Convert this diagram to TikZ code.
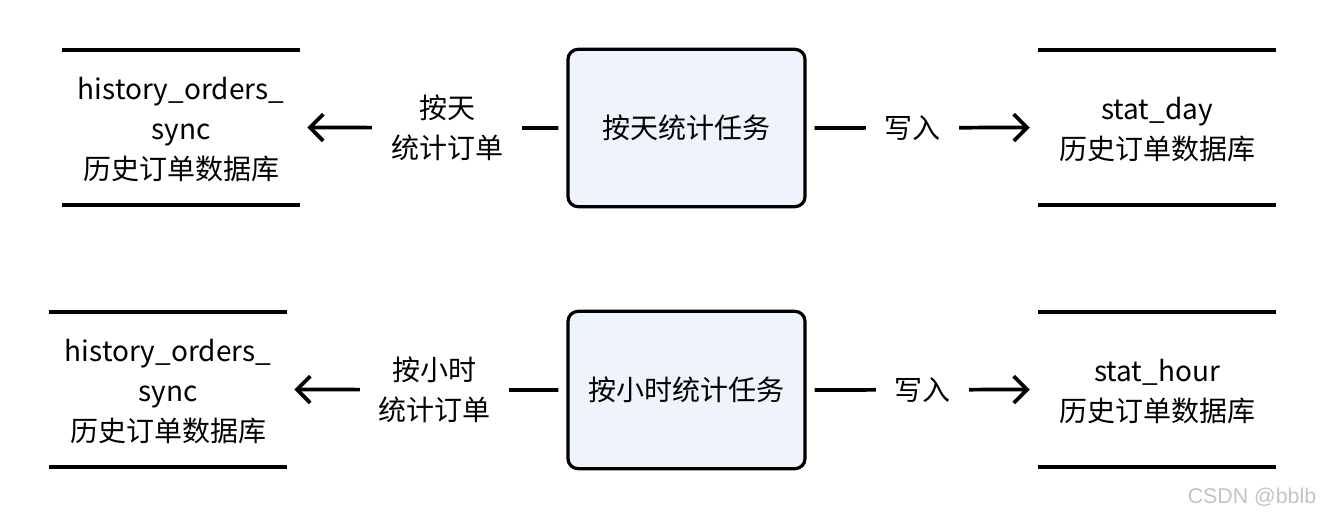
\documentclass[tikz,border=0pt]{standalone}
\usepackage{fontspec}
\setmainfont{Noto Sans CJK SC}
\newfontfamily\wmfont{Liberation Sans}
\usetikzlibrary{arrows.meta}
\definecolor{taskfill}{HTML}{EEF3FC}
\definecolor{wmgray}{HTML}{C4C4C4}
\tikzset{
  dbnode/.style={minimum width=178.5pt, minimum height=116.25pt, inner sep=0pt, align=center, font=\fontsize{21}{30}\selectfont},
  dbline/.style={line width=3pt},
  taskbox/.style={draw, line width=2.4pt, rounded corners=7.5pt, fill=taskfill, minimum width=177.75pt, minimum height=118pt, inner sep=0pt, font=\fontsize{21}{30}\selectfont},
  arr/.style={line width=2.8pt, -{Straight Barb[length=10pt, width=20pt, line width=2.8pt]}},
  lbl/.style={fill=white, inner xsep=14pt, inner ysep=2pt, align=center, font=\fontsize{21}{30}\selectfont}
}
\begin{document}
\begin{tikzpicture}[x=0.75pt, y=-0.75pt]
\path[use as bounding box, fill=white] (0,0) rectangle (1326,520);

\node[dbnode] (d1) at (181,127.5) {};
\node[dbnode] (d2) at (1157,127.5) {};
\node[dbnode] (d3) at (168,389.5) {};
\node[dbnode] (d4) at (1157,389.5) {};
\node[dbnode, minimum width=0pt, minimum height=0pt] (d1t) at (181,130) {history\_orders\_\\sync\\历史订单数据库};
\node[dbnode, minimum width=0pt, minimum height=0pt] (d2t) at (1157,130) {stat\_day\\历史订单数据库};
\node[dbnode, minimum width=0pt, minimum height=0pt] (d3t) at (168,392) {history\_orders\_\\sync\\历史订单数据库};
\node[dbnode, minimum width=0pt, minimum height=0pt] (d4t) at (1157,392) {stat\_hour\\历史订单数据库};

\node[taskbox] (t1) at (686.5,128) {按天统计任务};
\node[taskbox] (t2) at (686.5,390) {按小时统计任务};

\foreach \n in {d1,d2,d3,d4}{
  \draw[dbline] (\n.north west) -- (\n.north east);
  \draw[dbline] (\n.south west) -- (\n.south east);
}

\draw[arr] ([xshift=-6pt]t1.west) -- node[lbl, pos=0.443] (l1) {按天\\统计订单} ([xshift=5.25pt]d1.east);
\draw[arr] ([xshift=6pt]t1.east) -- node[lbl, pos=0.456] (l2) {写入} ([xshift=-6pt]d2.west);
\draw[arr] ([xshift=-6pt]t2.west) -- node[lbl, pos=0.47] (l3) {按小时\\统计订单} ([xshift=5.25pt]d3.east);
\draw[arr] ([xshift=6pt]t2.east) -- node[lbl, pos=0.50] (l4) {写入} ([xshift=-6pt]d4.west);

\node[text=wmgray, font=\wmfont\fontsize{16}{18}\selectfont] (wm) at (1252,497) {CSDN @bblb};
\end{tikzpicture}
\end{document}
